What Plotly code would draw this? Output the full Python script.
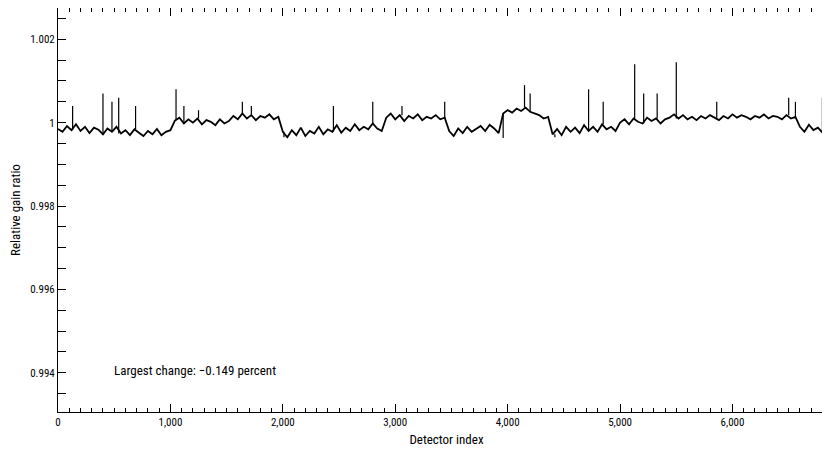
import plotly.graph_objects as go

base_step = 40
base_values = [
0.99985,0.99978,0.99992,0.99982,0.99996,0.99980,0.99990,0.99975,0.99988,0.99983,0.99972,0.99986,0.99978,0.99990,0.99974,0.99982,0.99970,0.99984,0.99976,0.99968,0.99980,0.99972,0.99985,0.99970,0.99978,0.99982,
1.00005,1.00012,0.99998,1.00008,1.00000,1.00010,0.99996,1.00006,1.00002,0.99994,1.00008,0.99998,1.00004,
1.00016,1.00008,1.00022,1.00010,1.00018,1.00006,1.00016,1.00012,1.00020,1.00008,1.00014,
0.99978,0.99965,0.99982,0.99970,0.99988,0.99968,0.99980,0.99974,0.99990,0.99972,0.99984,0.99978,0.99994,0.99976,0.99988,0.99980,0.99996,0.99982,0.99990,0.99984,0.99998,0.99986,0.99980,
1.00012,1.00022,1.00008,1.00018,1.00004,1.00016,1.00010,1.00020,1.00006,1.00014,1.00010,1.00018,1.00008,1.00012,
0.99980,0.99968,0.99986,0.99975,0.99990,0.99978,0.99984,0.99992,0.99980,0.99995,0.99986,0.99975,
1.00022,1.00030,1.00024,1.00034,1.00028,1.00036,1.00026,1.00022,1.00018,1.00010,1.00014,
0.99972,0.99985,0.99970,0.99990,0.99978,0.99988,0.99975,0.99994,0.99980,0.99990,0.99978,0.99996,0.99984,0.99990,0.99980,
1.00000,1.00008,0.99996,1.00010,1.00002,0.99998,1.00012,1.00004,1.00010,0.99998,1.00008,
1.00012,1.00020,1.00010,1.00018,1.00008,1.00014,1.00006,1.00016,1.00010,1.00018,1.00012,1.00006,1.00016,1.00010,1.00020,1.00012,1.00018,1.00014,1.00008,1.00016,1.00012,1.00020,1.00010,1.00016,1.00014,1.00008,1.00018,1.00010,1.00014,
0.99990,0.99978,0.99995,0.99982,0.99988,0.99976,0.99984,0.99972,
]
spike_x = [130, 400, 480, 540, 690, 1050, 1120, 1250, 1640, 1720, 2010, 2450, 2800, 3060, 3440, 3960, 4150, 4200, 4420, 4720, 4850, 5130, 5210, 5330, 5500, 5860, 6500, 6560, 6800, 6890]
spike_y = [1.0004, 1.0007, 1.0005, 1.0006, 1.0004, 1.0008, 1.0004, 1.0003, 1.0005, 1.0004, 0.99965, 1.0004, 1.0005, 1.0004, 1.0005, 0.99963, 1.0009, 1.0007, 0.99965, 1.0008, 1.0005, 1.0014, 1.0007, 1.0007, 1.00145, 1.0005, 1.0006, 1.0005, 1.0006, 0.99985]

base_x = [i * base_step for i in range(len(base_values))]
sx, sy = [], []
for x, y in zip(spike_x, spike_y):
    b = base_values[min(round(x / base_step), len(base_values) - 1)]
    sx += [x, x, None]
    sy += [b, y, None]

font = "Liberation Sans Narrow, Roboto Condensed, Arial Narrow, Roboto, sans-serif"
fig = go.Figure()
fig.add_trace(go.Scatter(x=base_x, y=base_values, mode="lines", line=dict(color="black", width=1.8)))
fig.add_trace(go.Scatter(x=sx, y=sy, mode="lines", line=dict(color="black", width=1.2)))
axcommon = dict(showgrid=False, zeroline=False, showline=True, linecolor="black", linewidth=1,
                mirror="allticks", ticks="inside", tickcolor="black", ticklen=8, automargin=False,
                tickfont=dict(family=font, size=11, color="black"))
fig.update_xaxes(range=[0, 6912], tickvals=[0,1000,2000,3000,4000,5000,6000],
                 ticktext=["0","1,000","2,000","3,000","4,000","5,000","6,000"],
                 minor=dict(dtick=100, ticks="inside", ticklen=4, tickcolor="black"),
                 title=dict(text="Detector index", font=dict(family=font, size=13, color="black"), standoff=6),
                 **axcommon)
fig.update_yaxes(range=[0.99306, 1.00275], tickvals=[0.994,0.996,0.998,1.0,1.002],
                 ticktext=["0.994","0.996","0.998","1","1.002"],
                 minor=dict(dtick=0.0005, ticks="inside", ticklen=8, tickcolor="black"),
                 title=dict(text="Relative gain ratio", font=dict(family=font, size=13, color="black"), standoff=8),
                 **axcommon)
fig.add_annotation(x=480, y=0.99405, text="Largest change: \u22120.149 percent", showarrow=False,
                   xanchor="left", font=dict(family=font, size=13, color="black"))
fig.update_layout(width=830, height=460, margin=dict(l=50, r=3, t=0, b=56),
                  plot_bgcolor="white", paper_bgcolor="white", showlegend=False)
fig.write_html("out.html")
